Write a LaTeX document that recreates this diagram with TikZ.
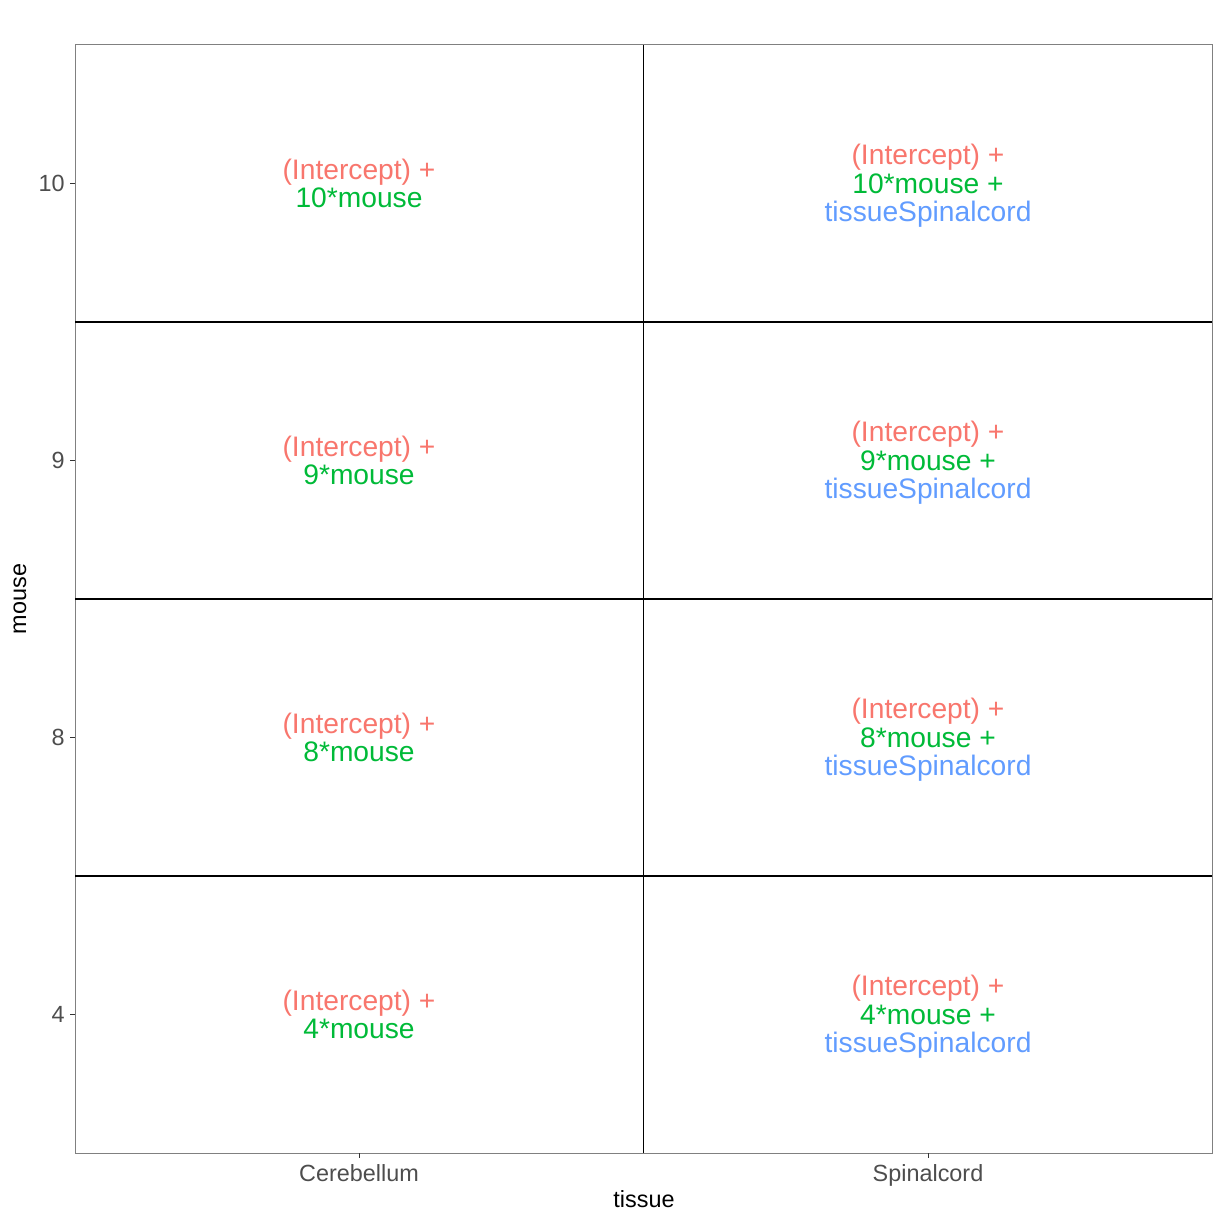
\documentclass[tikz,border=0pt]{standalone}
\usepackage{fontspec}
\setmainfont{Liberation Sans}
\usepackage{xcolor}
\usetikzlibrary{positioning}

\definecolor{termred}{HTML}{F8766D}
\definecolor{termgreen}{HTML}{00BA38}
\definecolor{termblue}{HTML}{619CFF}
\definecolor{ticktext}{HTML}{4D4D4D}

\begin{document}
\begin{tikzpicture}[
        x=0.5pt, y=-0.5pt,
        every node/.style={inner sep=0pt},
        cell/.style={align=center, font=\fontsize{14.1}{14.25}\selectfont},
        ticklab/.style={text=ticktext, font=\fontsize{11.7}{13}\selectfont},
        axtitle/.style={font=\fontsize{11.7}{13}\selectfont},
        border/.style={draw=black!50, line width=0.5pt},
        split/.style={draw=black, line width=0.9pt},
        tick/.style={draw=black!80, line width=0.5pt}
    ]
        \useasboundingbox (0,0) rectangle (1224,1224);

        % panel and cell borders
        \draw[border] (75,45) rectangle (1212,1153);
        \draw[split] (643.5,45) -- (643.5,1153);
        \foreach \y in {322,599,876}
            \draw[split] (75,\y) -- (1212,\y);

        % cells, one row per mouse
        \foreach \m/\y [count=\i] in {10/183.5, 9/460.5, 8/737.5, 4/1014.5} {
            \node[cell] (cb\i) at (359,\y)
                {\textcolor{termred}{(Intercept) +}\\\textcolor{termgreen}{\m*mouse}};
            \node[cell] (sc\i) at (928,\y+2.5)
                {\textcolor{termred}{(Intercept) +}\\\textcolor{termgreen}{\m*mouse +}\\\textcolor{termblue}{tissueSpinalcord}};
            \draw[tick] (70,\y) -- (75,\y);
            \node[ticklab, anchor=east] (yl\i) at (65,\y) {\m};
        }

        % x axis
        \draw[tick] (359,1153) -- (359,1158);
        \draw[tick] (928,1153) -- (928,1158);
        \node[ticklab, anchor=base] (xcb) at (359,1181.5) {Cerebellum};
        \node[ticklab, anchor=base] (xsc) at (928,1181.5) {Spinalcord};
        \node[axtitle, anchor=base] (xtitle) at (644,1207.5) {tissue};
        \node[axtitle, rotate=90] (ytitle) at (20,599) {mouse};
    \end{tikzpicture}
\end{document}
